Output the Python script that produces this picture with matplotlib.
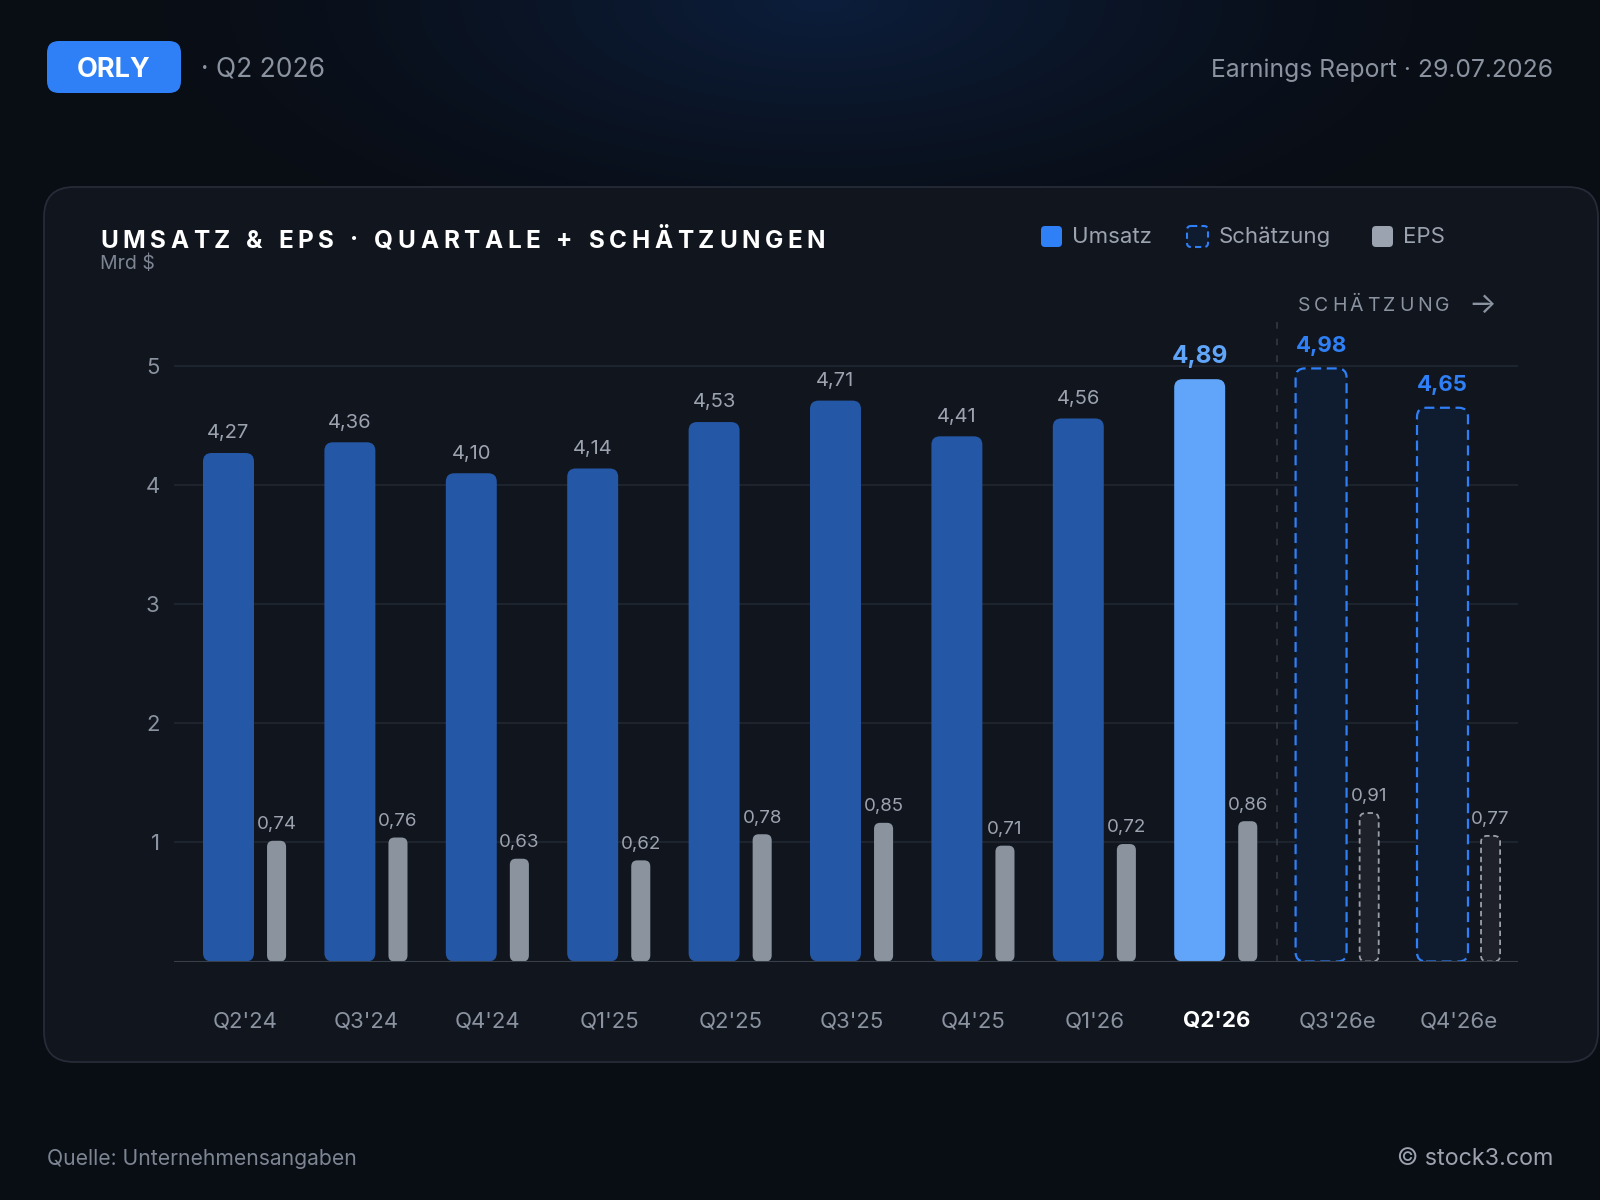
import numpy as np
import matplotlib
matplotlib.use("Agg")
import matplotlib.pyplot as plt
from matplotlib.patches import FancyBboxPatch

quarters = ["Q2'24", "Q3'24", "Q4'24", "Q1'25", "Q2'25", "Q3'25",
            "Q4'25", "Q1'26", "Q2'26", "Q3'26e", "Q4'26e"]
revenue = [4.27, 4.36, 4.10, 4.14, 4.53, 4.71, 4.41, 4.56, 4.89, 4.98, 4.65]
eps = [0.74, 0.76, 0.63, 0.62, 0.78, 0.85, 0.71, 0.72, 0.86, 0.91, 0.77]
is_estimate = [False] * 9 + [True, True]
current = "Q2'26"
eps_scale = 1.37   # EPS bars drawn on the revenue scale
y_ticks = [1, 2, 3, 4, 5]

plt.rcParams['font.family'] = ['Inter', 'DejaVu Sans']

W, H = 1600, 1200
fig = plt.figure(figsize=(16, 12), dpi=100)
fig.patch.set_facecolor('#090d14')

# background layer in pixel coords
bg = fig.add_axes([0, 0, 1, 1])
bg.set_xlim(0, W)
bg.set_ylim(H, 0)
bg.axis('off')

yy, xx = np.mgrid[0:H:2, 0:W:2]
d = np.sqrt(((xx - 820) / 720.0) ** 2 + (yy / 300.0) ** 2)
t = np.clip(1 - d, 0, 1) ** 1.5
base = np.array([9, 13, 20]) / 255
glow = np.array([12, 30, 60]) / 255
img = base + (glow - base) * t[..., None]
bg.imshow(img, extent=(0, W, H, 0), aspect='auto', zorder=0)

# card
card = FancyBboxPatch((44, 187), 1554, 875, boxstyle="round,pad=0,rounding_size=30",
                      fc='#10151e', ec='#262c37', lw=1.3, zorder=1)
bg.add_patch(card)

# header
badge = FancyBboxPatch((47, 41), 134, 52, boxstyle="round,pad=0,rounding_size=12",
                       fc='#2f80f7', ec='none', zorder=2)
bg.add_patch(badge)
bg.text(114, 70, "ORLY", color='white', fontsize=19.5, fontweight='bold',
        ha='center', va='center', zorder=3)
bg.text(201, 70, "· Q2 2026", color='#8b93a0', fontsize=19, ha='left', va='center', zorder=3)
bg.text(1553, 70, "Earnings Report · 29.07.2026", color='#8b93a0', fontsize=17.8,
        ha='right', va='center', zorder=3)

renderer = fig.canvas.get_renderer()


def spaced_text(x, y, s, spacing, **kw):
    for ch in s:
        txt = bg.text(x, y, ch, ha='left', va='center', zorder=3, **kw)
        if ch == ' ':
            w = kw['fontsize'] * 100 / 72 * 0.28
        else:
            w = txt.get_window_extent(renderer).width
        x += w + spacing
    return x


spaced_text(100, 241, "UMSATZ & EPS · QUARTALE + SCHÄTZUNGEN", 4.6,
            fontsize=17.5, fontweight='bold', color='white')
bg.text(100, 264, "Mrd $", color='#7d8593', fontsize=14, ha='left', va='center', zorder=3)

# legend
bg.add_patch(FancyBboxPatch((1041, 226), 21, 21, boxstyle="round,pad=0,rounding_size=4",
                            fc='#2f80f7', ec='none', zorder=3))
bg.text(1072, 237, "Umsatz", color='#9ca3af', fontsize=16, ha='left', va='center', zorder=3)
bg.add_patch(FancyBboxPatch((1187, 226), 21, 21, boxstyle="round,pad=0,rounding_size=4",
                            fc='#0f1b2e', ec='#2f80f7', lw=1.5, ls=(0, (3, 2)), zorder=3))
bg.text(1219, 237, "Schätzung", color='#9ca3af', fontsize=16, ha='left', va='center', zorder=3)
bg.add_patch(FancyBboxPatch((1372, 226), 21, 21, boxstyle="round,pad=0,rounding_size=4",
                            fc='#9aa3af', ec='none', zorder=3))
bg.text(1403, 237, "EPS", color='#9ca3af', fontsize=16, ha='left', va='center', zorder=3)

spaced_text(1298, 306, "SCHÄTZUNG", 3.6, fontsize=14, color='#8b93a0')
bg.text(1468, 305, "→", color='#8b93a0', fontsize=21, ha='left', va='center', zorder=3)

# footer
bg.text(47, 1159, "Quelle: Unternehmensangaben", color='#7d8593', fontsize=15.2,
        ha='left', va='center')
bg.text(1553, 1159, "© stock3.com", color='#9ca3af', fontsize=16.8, ha='right', va='center')

# chart axes
left, right, bottom, top = 173.5, 1518, 961.5, 322
ax = fig.add_axes([left / W, (H - bottom) / H, (right - left) / W, (bottom - top) / H])
ax.set_facecolor('none')
ax.set_xlim(-0.589, 10.486)
ax.set_ylim(0, 5.37)
for s in ax.spines.values():
    s.set_visible(False)

for v in y_ticks:
    ax.axhline(v, color='#222832', lw=1.2, zorder=0)
ax.axhline(0, color='#3a404a', lw=1.5, zorder=4)
ax.axvline(8.5, color='#333943', lw=1.2, ls=(0, (4, 6)), zorder=0)

aspect = 1.02
rev_w, rev_off = 0.42, -0.136
eps_w, eps_off = 0.157, 0.26

for i, q in enumerate(quarters):
    r = revenue[i]
    e = eps[i] * eps_scale
    rx = i + rev_off - rev_w / 2
    ex = i + eps_off - eps_w / 2
    if is_estimate[i]:
        ax.add_patch(FancyBboxPatch((rx, 0), rev_w, r, boxstyle="round,pad=0,rounding_size=0.075",
                                    mutation_aspect=aspect, fc='#0f1b2e', ec='#2f80f7',
                                    lw=1.6, ls=(0, (4.5, 2.5)), zorder=2))
        ax.add_patch(FancyBboxPatch((ex, 0), eps_w, e, boxstyle="round,pad=0,rounding_size=0.05",
                                    mutation_aspect=aspect, fc='#1e2129', ec='#9aa0a8',
                                    lw=1.3, ls=(0, (3, 2)), zorder=2))
        ax.text(i + rev_off, r + 0.19, f"{r:.2f}".replace('.', ','), color='#2f80f7',
                fontsize=16, fontweight='bold', ha='center', va='center')
    else:
        col = '#60a5fa' if q == current else '#2457a5'
        ax.add_patch(FancyBboxPatch((rx, 0), rev_w, r, boxstyle="round,pad=0,rounding_size=0.07",
                                    mutation_aspect=aspect, fc=col, ec='none', zorder=2))
        ax.add_patch(FancyBboxPatch((ex, 0), eps_w, e, boxstyle="round,pad=0,rounding_size=0.05",
                                    mutation_aspect=aspect, fc='#8a939e', ec='none', zorder=2))
        if q == current:
            ax.text(i + rev_off, r + 0.19, f"{r:.2f}".replace('.', ','), color='#60a5fa',
                    fontsize=17.5, fontweight='bold', ha='center', va='center')
        else:
            ax.text(i + rev_off, r + 0.165, f"{r:.2f}".replace('.', ','), color='#9ca3af',
                    fontsize=14.5, ha='center', va='center')
    ax.text(i + eps_off, e + 0.135, f"{eps[i]:.2f}".replace('.', ','), color='#9ca3af',
            fontsize=13.5, ha='center', va='center')

ax.set_yticks(y_ticks)
ax.set_yticklabels([str(v) for v in y_ticks])
ax.set_xticks(range(len(quarters)))
ax.set_xticklabels(quarters)
ax.tick_params(axis='y', length=0, pad=10, labelsize=16, labelcolor='#8b93a0')
ax.tick_params(axis='x', length=0, pad=36, labelsize=16, labelcolor='#8b93a0')
for lab in ax.get_xticklabels():
    if lab.get_text() == current:
        lab.set_color('white')
        lab.set_fontweight('bold')

fig.savefig("out.png", dpi=100, facecolor=fig.get_facecolor())
